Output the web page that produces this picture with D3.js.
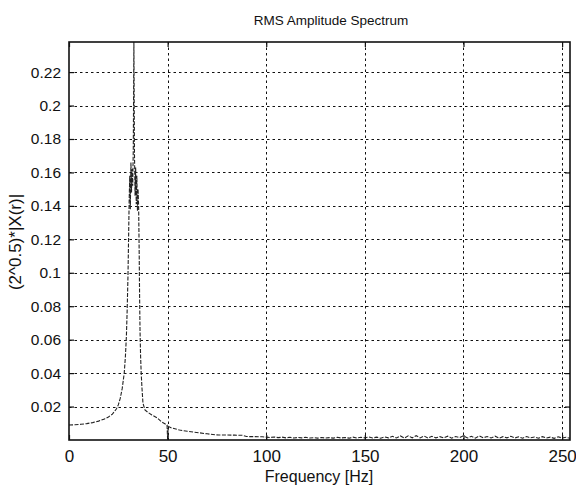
<!DOCTYPE html>
<html>
<head>
<meta charset="utf-8">
<script src="https://cdn.jsdelivr.net/npm/d3@7/dist/d3.min.js"></script>
<style>
  html, body { margin: 0; padding: 0; background: #fff; }
  svg { display: block; }
  text { font-family: "Liberation Sans", Arial, sans-serif; fill: #111; }
</style>
</head>
<body>
<svg id="chart" width="576" height="490"></svg>
<script>
// Spectrum samples: frequency (Hz) and RMS amplitude
const freqHz = [
  0, 3, 6, 9, 12, 15, 18, 20, 22, 24, 25, 26, 27, 28, 28.6, 29.1, 29.5, 29.9,
  30.2, 30.5, 30.8, 31.1, 31.4, 31.7, 32.0, 32.3, 32.6, 32.9, 33.2, 33.5, 33.8,
  34.1, 34.4, 34.7, 35.0, 35.3, 35.6, 35.8, 36.0, 36.3, 36.6, 37.0, 37.5, 38.5,
  40, 42, 44.6, 47, 49.7, 50, 50.3, 52, 56, 60, 66, 70, 74, 76, 80, 84, 88,
  90, 92, 94, 96, 98, 100, 102, 104, 106, 108, 110, 112, 114, 116, 118, 120,
  122, 124, 126, 128, 130, 132, 134, 136, 138, 140, 142, 144, 146, 148, 150,
  152, 154, 156, 158, 160, 162, 164, 166, 168, 170, 172, 174, 176, 178, 180,
  182, 184, 186, 188, 190, 192, 194, 196, 198, 200, 202, 204, 206, 208, 210,
  212, 214, 216, 218, 220, 222, 224, 226, 228, 230, 232, 234, 236, 238, 240,
  242, 244, 246, 248, 250, 252, 254
];
const rmsAmp = [
  0.0090, 0.0091, 0.0094, 0.0098, 0.0104, 0.0113, 0.0126, 0.0138, 0.0155, 0.0185, 0.0210, 0.0250, 0.0310, 0.0400, 0.0500, 0.0620, 0.0780, 0.0980,
  0.120, 0.143, 0.158, 0.138, 0.166, 0.148, 0.162, 0.152, 0.175, 0.238, 0.171, 0.146, 0.163,
  0.141, 0.158, 0.137, 0.150, 0.140, 0.110, 0.085, 0.066, 0.050, 0.040, 0.031, 0.022, 0.018,
  0.0165, 0.0150, 0.0133, 0.0108, 0.0090, 0.0003, 0.0082, 0.0072, 0.0060, 0.0052, 0.0043, 0.0037, 0.0031, 0.0030, 0.0030, 0.0029, 0.0028,
  0.0021, 0.0020, 0.0020, 0.0019, 0.0019, 0.0017, 0.0015, 0.0018, 0.0014, 0.0017, 0.0013, 0.0016, 0.0012, 0.0015, 0.0013, 0.0016,
  0.0012, 0.0014, 0.0011, 0.0015, 0.0012, 0.0014, 0.0011, 0.0016, 0.0012, 0.0015, 0.0011, 0.0017, 0.0012, 0.0016, 0.0013,
  0.0018, 0.0012, 0.0017, 0.0011, 0.0019, 0.0013, 0.0022, 0.0012, 0.0024, 0.0011, 0.0025, 0.0013, 0.0026, 0.0012, 0.0024,
  0.0011, 0.0022, 0.0013, 0.0020, 0.0012, 0.0023, 0.0011, 0.0021, 0.0014, 0.0025, 0.0012, 0.0022, 0.0011, 0.0024, 0.0013,
  0.0021, 0.0012, 0.0023, 0.0011, 0.0020, 0.0013, 0.0022, 0.0012, 0.0019, 0.0011, 0.0021, 0.0013, 0.0018, 0.0011, 0.0020,
  0.0012, 0.0017, 0.0010, 0.0019, 0.0012, 0.0016, 0.0010
];

const xTicks = [0, 50, 100, 150, 200, 250];
const xTickLabels = ["0", "50", "100", "150", "200", "250"];
const yTicks = [0.02, 0.04, 0.06, 0.08, 0.10, 0.12, 0.14, 0.16, 0.18, 0.20, 0.22];
const yTickLabels = ["0.02", "0.04", "0.06", "0.08", "0.1", "0.12", "0.14", "0.16", "0.18", "0.2", "0.22"];

const titleText = "RMS Amplitude Spectrum";
const xLabelText = "Frequency [Hz]";
const yLabelText = "(2^0.5)*|X(r)|";

const svg = d3.select("#chart");
const plot = { left: 69, right: 570, top: 42, bottom: 440 };

const x = d3.scaleLinear().domain([0, 254]).range([plot.left, plot.right]);
const y = d3.scaleLinear().domain([0, 0.238]).range([plot.bottom, plot.top]);

svg.append("rect").attr("width", 576).attr("height", 490).attr("fill", "#fff");

// dotted grid
const grid = svg.append("g").attr("stroke", "#111").attr("stroke-width", 1)
  .attr("stroke-dasharray", "2.5,3").attr("fill", "none");
grid.selectAll("line.gy").data(yTicks).join("line")
  .attr("x1", plot.left).attr("x2", plot.right)
  .attr("y1", d => Math.round(y(d)) + 0.5).attr("y2", d => Math.round(y(d)) + 0.5);
grid.selectAll("line.gx").data(xTicks.filter(d => d > 0)).join("line")
  .attr("y1", plot.top).attr("y2", plot.bottom)
  .attr("x1", d => Math.round(x(d)) + 0.5).attr("x2", d => Math.round(x(d)) + 0.5);

// spectrum trace
const clipId = "plotclip";
svg.append("clipPath").attr("id", clipId).append("rect")
  .attr("x", plot.left).attr("y", plot.top)
  .attr("width", plot.right - plot.left).attr("height", plot.bottom - plot.top);

const line = d3.line().x((d, i) => x(freqHz[i])).y(d => y(d));
svg.append("path")
  .attr("clip-path", `url(#${clipId})`)
  .attr("d", line(rmsAmp))
  .attr("fill", "none").attr("stroke", "#222").attr("stroke-width", 1.1)
  .attr("stroke-dasharray", "4,1.5");

// axes with inward ticks on all four sides
const tickLen = 5;
const axisLeft = d3.axisLeft(y).tickValues(yTicks).tickSizeInner(-tickLen).tickSizeOuter(0)
  .tickPadding(8).tickFormat((d, i) => yTickLabels[i]);
const axisBottom = d3.axisBottom(x).tickValues(xTicks).tickSizeInner(-tickLen).tickSizeOuter(0)
  .tickPadding(10).tickFormat((d, i) => xTickLabels[i]);
const axisRight = d3.axisRight(y).tickValues(yTicks).tickSizeInner(-tickLen).tickSizeOuter(0).tickFormat("");
const axisTop = d3.axisTop(x).tickValues(xTicks).tickSizeInner(-tickLen).tickSizeOuter(0).tickFormat("");

const gl = svg.append("g").attr("transform", `translate(${plot.left},0)`).call(axisLeft);
const gb = svg.append("g").attr("transform", `translate(0,${plot.bottom})`).call(axisBottom);
svg.append("g").attr("transform", `translate(${plot.right},0)`).call(axisRight);
svg.append("g").attr("transform", `translate(0,${plot.top})`).call(axisTop);

svg.selectAll(".domain").remove();
svg.selectAll(".tick line").attr("stroke", "#111").attr("stroke-width", 1.2);
gl.selectAll("text").attr("font-size", 15.5).attr("fill", "#111")
  .style("font-family", "'Liberation Sans', Arial, sans-serif");
gb.selectAll("text").attr("font-size", 17).attr("fill", "#111")
  .style("font-family", "'Liberation Sans', Arial, sans-serif");

// frame
svg.append("rect")
  .attr("x", plot.left).attr("y", plot.top)
  .attr("width", plot.right - plot.left).attr("height", plot.bottom - plot.top)
  .attr("fill", "none").attr("stroke", "#111").attr("stroke-width", 1.6);

// titles
svg.append("text").attr("x", 331).attr("y", 25).attr("text-anchor", "middle")
  .attr("font-size", 13.5).text(titleText);
svg.append("text").attr("x", 319).attr("y", 482).attr("text-anchor", "middle")
  .attr("font-size", 16).text(xLabelText);
svg.append("text").attr("transform", `translate(21,242) rotate(-90)`)
  .attr("text-anchor", "middle").attr("font-size", 17).text(yLabelText);
</script>
</body>
</html>
